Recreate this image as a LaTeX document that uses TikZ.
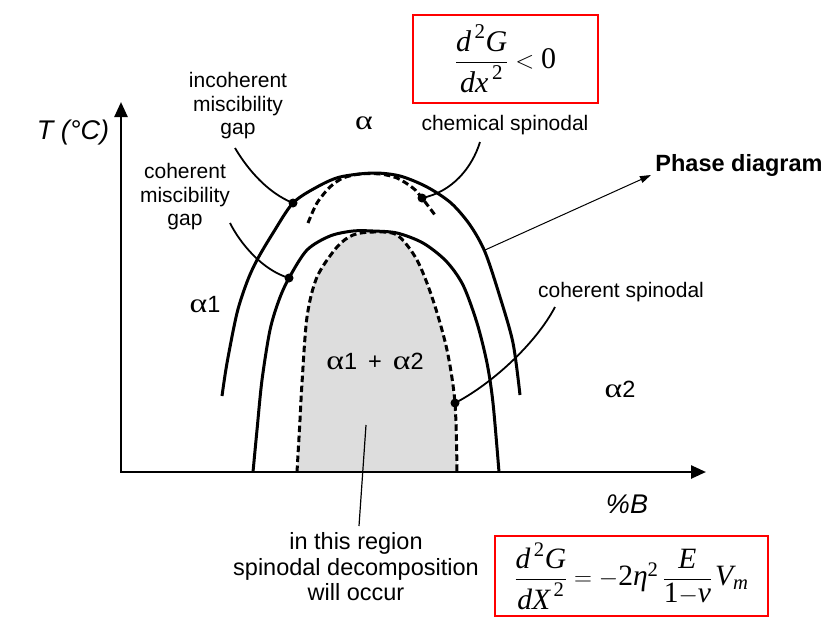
\documentclass[tikz,border=0pt]{standalone}
\usepackage{amsmath}
\usepackage{graphicx}
\usepackage{fontspec}
\setmainfont{Liberation Sans}
\newfontfamily\tnr{Liberation Serif}
\usetikzlibrary{arrows.meta}
\newcommand{\mi}[1]{\text{\tnr\itshape #1}}
\newcommand{\mr}[1]{\text{\tnr\upshape #1}}
\newcommand{\alp}{\scalebox{1.25}[1]{\fontsize{27}{30}\selectfont\tnr α}}
\definecolor{regiongray}{RGB}{221,221,221}
\begin{document}
\begin{tikzpicture}[x=1pt,y=-1pt,
  lbl/.style={font=\fontsize{21}{23.5}\selectfont, align=center, inner sep=0pt},
  alab/.style={font=\fontsize{23.5}{26}\selectfont, inner sep=0pt},
  curve/.style={line width=3pt},
  dcurve/.style={line width=3pt, dash pattern=on 6.5pt off 3.5pt},
  leader/.style={line width=1.8pt},
  axis/.style={line width=2.5pt},
  dotm/.style={circle, fill=black, inner sep=0pt, minimum size=9pt},
  fbox/.style={draw=red, line width=2pt, inner sep=0pt}]
\useasboundingbox (0,0) rectangle (825,630);

% shaded spinodal region
\fill[regiongray] plot[smooth] coordinates {(297,472) (300,420) (302,383) (307,317) (317,277) (337,247) (353,235) (373,232) (397,235) (417,260) (433,300) (447,350) (455,403) (457,472)} -- cycle;

% axes
\draw[axis, {Triangle[length=15pt,width=13pt]}-{Triangle[length=15pt,width=13pt]}] (121,102) -- (121,472) -- (706,472);

% coherent spinodal (dashed)
\draw[dcurve] plot[smooth] coordinates {(297,472) (300,420) (302,383) (307,317) (317,277) (337,247) (353,235) (373,232) (397,235) (417,260) (433,300) (447,350) (455,403) (457,472)};

% chemical spinodal (dashed)
\draw[dcurve] plot[smooth] coordinates {(308,223) (317,203) (330,187) (343,178) (360,174) (380,174) (397,178) (413,188) (422,198) (435,215)};

% incoherent miscibility gap (outer)
\draw[curve] plot[smooth] coordinates {(222,396) (227,363) (237,313) (247,282) (257,260) (273,233) (293,203) (317,187) (340,177) (373,173) (400,176) (427,187) (451,203) (470,225) (485,252) (500,297) (513,343) (520,395)};

% coherent miscibility gap (inner)
\draw[curve] plot[smooth] coordinates {(253,472) (257,430) (262,380) (270,330) (279,300) (289,278) (307,250) (330,236) (353,231) (373,231) (397,233) (423,243) (446,261) (463,285) (477,323) (487,363) (493,403) (499,472)};

% labels
\node[lbl, font=\fontsize{27}{30}\selectfont\itshape] (Tlab) at (73,133) {T (°C)};
\node[lbl, font=\fontsize{27}{30}\selectfont\itshape] (Blab) at (627,504) {\%B};
\node[lbl] (inc) at (238,106) {incoherent\\miscibility\\gap};
\node[lbl] (coh) at (185,197) {coherent\\miscibility\\gap};
\node[lbl] (chem) at (505,125) {chemical spinodal};
\node[lbl] (csp) at (621,292) {coherent spinodal};
\node[lbl, font=\fontsize{23.5}{26}\selectfont\bfseries] (phase) at (739,165) {Phase diagram};
\node[lbl, font=\fontsize{23.5}{25.5}\selectfont] (reg) at (356,567) {in this region\\spinodal decomposition\\will occur};
\node[alab] (alpha) at (364,123) {\alp};
\node[alab] (a1) at (205,305) {\alp 1};
\node[alab] (a2) at (620,389) {\alp 2};
\node[alab] (a12) at (375,361) {\alp 1\hspace{11pt}+\hspace{11pt}\alp 2};

% formula boxes
\node[fbox, minimum width=185pt, minimum height=88pt] (f1) at (505.5,59)
  {\fontsize{30}{36}\selectfont $\dfrac{\mi{d}^{\,\mr{2}}\mi{G}}{\mi{dx}^{\,\mr{2}}}<\mr{0}$};
\node[fbox, minimum width=273pt, minimum height=80pt] (f2) at (631.5,576)
  {\fontsize{29.5}{34}\selectfont $\dfrac{\mi{d}^{\,\mr{2}}\mi{G}}{\mi{dX}^{\,\mr{2}}}=-\mr{2}\mi{η}^{\mr{2}}\,\dfrac{\mi{E}}{\mr{1}{-}\mi{ν}}\mkern2mu\mi{V}_{\mi{m}}$};

% dots and leader ends
\coordinate (dInc) at (293,203);
\coordinate (dCoh) at (289,278);
\coordinate (dChem) at (422,198);
\coordinate (dCsp) at (455,403);
\coordinate (lInc) at (235,148);
\coordinate (lCoh) at (230,223);
\coordinate (lChem) at (480,142);
\coordinate (lCsp) at (555,307);
\coordinate (rTop) at (366,425);
\coordinate (rBot) at (359,526);
\coordinate (pStart) at (485,250);
\coordinate (pEnd) at (651,175);

\draw[leader] (lInc) .. controls (248,170) and (268,193) .. (dInc);
\draw[leader] (lCoh) .. controls (240,243) and (262,270) .. (dCoh);
\draw[leader] (lChem) .. controls (472,168) and (452,192) .. (dChem);
\draw[leader] (lCsp) .. controls (535,345) and (490,385) .. (dCsp);
\draw[line width=1.2pt] (rTop) -- (rBot);
\draw[line width=1pt, -{Triangle[length=11pt,width=7pt]}] (pStart) -- (pEnd);

\foreach \d in {dInc,dCoh,dChem,dCsp} \node[dotm] at (\d) {};
\end{tikzpicture}
\end{document}
